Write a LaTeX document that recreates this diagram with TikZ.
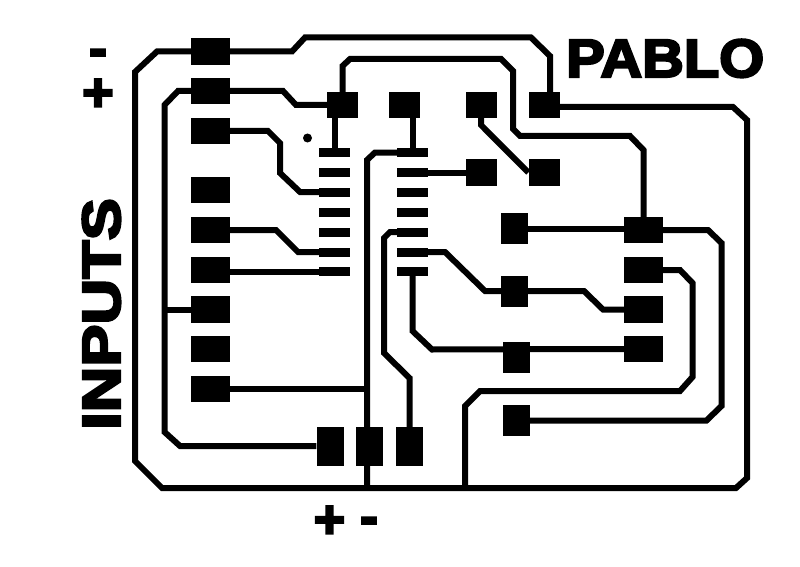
\documentclass[tikz,border=0pt]{standalone}
\usepackage{fontspec}
\newfontfamily\heavyfont[FakeBold=4]{Liberation Sans Bold}
\tikzset{
	track/.style={line width=6pt,line join=miter},
	conpad/.style={fill,inner sep=0pt,minimum width=39pt,minimum height=26.5pt},
	smdpad/.style={fill,inner sep=0pt,minimum width=31pt,minimum height=26.5pt},
	vertpad/.style={fill,inner sep=0pt,minimum width=27pt,minimum height=31pt},
	tallpad/.style={fill,inner sep=0pt,minimum width=27pt,minimum height=39pt},
	icpin/.style={fill,inner sep=0pt,minimum width=31pt,minimum height=9pt},
	lettering/.style={inner sep=0pt,font=\heavyfont\fontsize{54}{54}\selectfont}
}
\begin{document}
\begin{tikzpicture}[x=1pt,y=-1pt]
	\useasboundingbox (0,0) rectangle (800,567);
	% connector on the left
	\node [conpad] (l1) at (210.5,51.5) {};
	\node [conpad] (l2) at (210.5,91) {};
	\node [conpad] (l3) at (210.5,131) {};
	\node [conpad] (l4) at (210.5,190) {};
	\node [conpad] (l5) at (210.5,230) {};
	\node [conpad] (l6) at (210.5,270) {};
	\node [conpad] (l7) at (210.5,309.5) {};
	\node [conpad] (l8) at (210.5,349) {};
	\node [conpad] (l9) at (210.5,389) {};
	% connector on the right
	\node [conpad] (r1) at (643.5,230) {};
	\node [conpad] (r2) at (643.5,270) {};
	\node [conpad] (r3) at (643.5,309.5) {};
	\node [conpad] (r4) at (643.5,349) {};
	% connector at the bottom
	\node [tallpad] (b1) at (330,446.5) {};
	\node [tallpad] (b2) at (369.5,446.5) {};
	\node [tallpad] (b3) at (409.5,446.5) {};
	% small pads
	\node [smdpad] (s1) at (342.5,105) {};
	\node [smdpad] (s2) at (404.5,105) {};
	\node [smdpad] (s3) at (481.5,105) {};
	\node [smdpad] (s4) at (544,105) {};
	\node [smdpad] (s5) at (481.5,172.5) {};
	\node [smdpad] (s6) at (544,172.5) {};
	\node [vertpad] (v1) at (514.5,228.5) {};
	\node [vertpad] (v2) at (514.5,291.5) {};
	\node [vertpad] (v3) at (516.5,357.5) {};
	\node [vertpad] (v4) at (516.5,420.5) {};
	% chip
	\foreach \n/\y in {1/152.5,2/172.5,3/192,4/212,5/232,6/252,7/271.5} {
		\node [icpin] (a\n) at (334.5,\y) {};
		\node [icpin] (c\n) at (412.5,\y) {};
	}
	\fill (307.5,138) circle (4.5pt);
	% tracks
	\draw [track] (l1.west) -- (157,51.5) -- (135,72) -- (135,461) -- (162,488) -- (736,488) -- (747,478) -- (747,120) -- (733,107) -- (s4.center |- 0,107);
	\draw [track] (l1.east) -- (292,51.5) -- (305,37.5) -- (531,37.5) -- (550,56) -- (550,92);
	\draw [track] (342.5,92) -- (342.5,66) -- (350,59) -- (501,59) -- (513,71) -- (513,129) -- (520,136) -- (630,136) -- (643.5,150) -- (643.5,217);
	\draw [track] (l2.west) -- (178,91) -- (164.5,105) -- (164.5,432) -- (180,446) -- (b1.west |- 0,446);
	\draw [track] (164.5,309.5) -- (l7.west);
	\draw [track] (l2.east) -- (283,91) -- (296,105) -- (s1.west);
	\draw [track] (335,118) -- (a1.north -| 335,0);
	\draw [track] (412.5,118) -- (c1.north);
	\draw [track] (l3.east) -- (268,131) -- (280,143) -- (280,173) -- (300,192) -- (a3.west);
	\draw [track] (l5.east) -- (276,230) -- (298,252) -- (a6.west);
	\draw [track] (l6.east |- a7.west) -- (a7.west);
	\draw [track] (c1.west) -- (375,152.5) -- (367,160) -- (367,488);
	\draw [track] (l9.east) -- (367,389);
	\draw [track] (c5.west) -- (390,232) -- (384,238) -- (384,353) -- (409.5,378) -- (b3.north);
	\draw [track] (c2.east) -- (s5.west);
	\draw [track] (c6.east) -- (445,252) -- (485,291) -- (584,291) -- (603,309.5) -- (r3.west);
	\draw [track] (c7.south) -- (412.5,331) -- (432,349.5) -- (r4.west);
	\draw [track] (481,118) -- (481,125) -- (s6.west);
	\draw [track] (v1.east) -- (r1.west |- v1.east);
	\draw [track] (r1.east) -- (708,230) -- (721.5,243) -- (721.5,406) -- (706.5,420.5) -- (v4.east);
	\draw [track] (r2.east) -- (680,270) -- (692.5,283) -- (692.5,377) -- (680,391) -- (480,391) -- (465,406) -- (465,488);
	% lettering
	\node [lettering,anchor=base west,xscale=1.07] (name) at (566,77) {PABLO};
	\node [lettering,anchor=base,rotate=90,xscale=1.17] (inputs) at (120,314) {INPUTS};
	\node [lettering] (plusl) at (98,95) {+};
	\node [lettering] (minusl) at (98,58) {-};
	\node [lettering] (plusb) at (329.5,522) {+};
	\node [lettering] (minusb) at (369,526) {-};
\end{tikzpicture}
\end{document}
